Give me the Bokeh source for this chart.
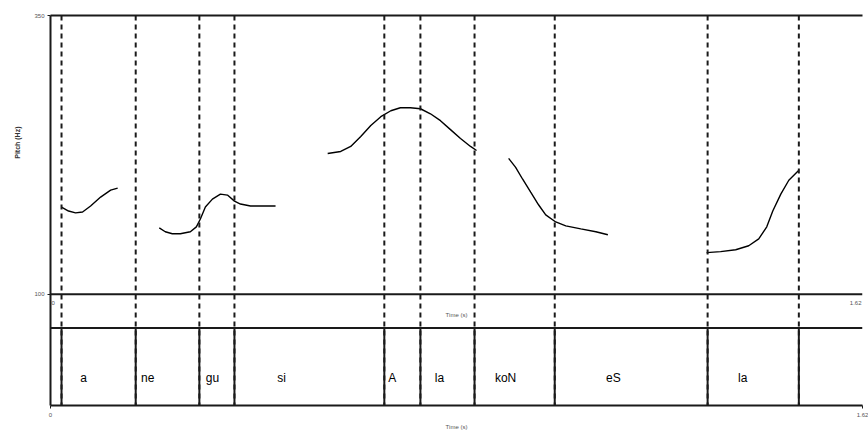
from bokeh.plotting import figure
from bokeh.models import Range1d, LinearAxis, FixedTicker, Span, Title
from bokeh.core.properties import value
from bokeh.embed import file_html
from bokeh.resources import INLINE

# ---- data ----
total_time = 1.62
pitch_min, pitch_max = 100, 350

boundaries = [0.022, 0.170, 0.297, 0.367, 0.666, 0.738, 0.846, 1.006, 1.311, 1.493]
syllables = ["a", "ne", "gu", "si", "A", "la", "koN", "eS", "la"]
syllable_x = [0.066, 0.194, 0.323, 0.461, 0.682, 0.776, 0.908, 1.123, 1.381]

seg1_t = [0.022, 0.036, 0.050, 0.064, 0.080, 0.100, 0.120, 0.134]
seg1_f = [178.3, 174.7, 173.0, 173.8, 179.2, 187.2, 193.4, 195.2]
seg2_t = [0.217, 0.229, 0.243, 0.259, 0.279, 0.291, 0.299, 0.309, 0.323, 0.339, 0.353, 0.367, 0.379, 0.399, 0.423, 0.449]
seg2_f = [159.6, 156.1, 154.3, 154.3, 156.1, 160.5, 167.6, 178.3, 185.4, 189.9, 189.0, 183.6, 181.0, 179.2, 179.2, 179.2]
seg3_t = [0.553, 0.579, 0.599, 0.619, 0.639, 0.659, 0.679, 0.698, 0.718, 0.738, 0.758, 0.778, 0.798, 0.818, 0.838, 0.850]
seg3_f = [226.3, 228.1, 232.6, 241.5, 251.3, 259.3, 264.6, 267.3, 267.3, 266.4, 261.9, 255.7, 247.7, 239.7, 232.6, 229.0]
seg4_t = [0.914, 0.928, 0.942, 0.958, 0.974, 0.988, 1.008, 1.028, 1.058, 1.088, 1.112]
seg4_f = [221.9, 213.9, 203.2, 191.6, 180.1, 171.2, 164.9, 161.4, 158.7, 156.1, 153.4]
seg5_t = [1.309, 1.337, 1.367, 1.393, 1.413, 1.429, 1.441, 1.457, 1.473, 1.493]
seg5_f = [137.4, 138.3, 140.0, 143.6, 149.8, 160.5, 174.7, 189.9, 202.3, 211.2]

# ---- layout ----
FRAME_H = 393
PITCH_H = 281
TIER_H = 78
y_start = pitch_min - (pitch_max - pitch_min) * (FRAME_H - PITCH_H) / PITCH_H

LINE = "#1a1a1a"
TICK_TXT = "#555555"
FONT = "Liberation Sans"

p = figure(width=868, height=432, output_backend="svg", toolbar_location=None,
           x_range=Range1d(0, total_time), y_range=Range1d(y_start, pitch_max),
           x_axis_location=None, y_axis_location=None,
           min_border_left=50, min_border_right=6, min_border_top=15, min_border_bottom=24)
p.extra_y_ranges = {"tier": Range1d(0, FRAME_H / TIER_H)}
p.outline_line_color = None
p.xgrid.visible = False
p.ygrid.visible = False
p.background_fill_color = "white"
p.border_fill_color = "white"

left = LinearAxis(ticker=FixedTicker(ticks=[pitch_min, pitch_max]))
left.axis_line_color = LINE
left.axis_line_width = 2
left.major_tick_line_color = LINE
left.major_tick_out = 3
left.major_tick_in = 0
left.minor_tick_line_color = None
left.major_label_text_font_size = "6px"
left.major_label_text_color = TICK_TXT
left.major_label_standoff = 3
left.major_label_orientation = "horizontal"
p.add_layout(left, "left")

p.add_layout(Title(text="Pitch (Hz)", align="right", offset=111, standoff=22,
                   text_font_size="7px", text_font_style="bold", text_color="#333333"), "left")

bottom = LinearAxis(ticker=FixedTicker(ticks=[0, total_time]), axis_label="Time (s)")
bottom.axis_line_color = LINE
bottom.axis_line_width = 2
bottom.major_tick_line_color = LINE
bottom.major_tick_out = 3
bottom.major_tick_in = 0
bottom.minor_tick_line_color = None
bottom.major_label_text_font_size = "6px"
bottom.major_label_text_color = TICK_TXT
bottom.major_label_standoff = 4
bottom.axis_label_text_font_size = "6px"
bottom.axis_label_text_font_style = "normal"
bottom.axis_label_text_color = TICK_TXT
bottom.axis_label_standoff = 4
p.add_layout(bottom, "below")

top = LinearAxis(ticker=FixedTicker(ticks=[]))
top.axis_line_color = LINE
top.axis_line_width = 2
top.major_tick_line_color = None
top.minor_tick_line_color = None
top.major_label_text_font_size = "0px"
p.add_layout(top, "above")

# horizontal separators
p.add_layout(Span(location=pitch_min, dimension="width", line_color=LINE, line_width=2))
p.add_layout(Span(location=1, dimension="width", y_range_name="tier", line_color=LINE, line_width=2))

# boundaries: dashed through pitch area, solid in tier
for b in boundaries:
    p.add_layout(Span(location=b, dimension="height", line_color=LINE, line_width=2, line_dash="5 4"))
p.segment(x0=boundaries, y0=[0] * len(boundaries), x1=boundaries, y1=[1] * len(boundaries),
          y_range_name="tier", line_color=LINE, line_width=2)

# pitch contour
for ts, fs in [(seg1_t, seg1_f), (seg2_t, seg2_f), (seg3_t, seg3_f), (seg4_t, seg4_f), (seg5_t, seg5_f)]:
    p.line(ts, fs, line_color="black", line_width=1.4)

# tier labels
p.text(x=syllable_x, y=[0.35] * len(syllables), text=syllables, y_range_name="tier",
       text_font=value(FONT), text_font_size="12px", text_color="black",
       text_align="center", text_baseline="middle")

# time ticks under the pitch panel
p.text(x=[0], y=[pitch_min], text=["0"], y_offset=9, x_offset=1,
       text_font=value(FONT), text_font_size="6px", text_color=TICK_TXT,
       text_align="left", text_baseline="middle")
p.text(x=[total_time], y=[pitch_min], text=[str(total_time)], y_offset=9, x_offset=-1,
       text_font=value(FONT), text_font_size="6px", text_color=TICK_TXT,
       text_align="right", text_baseline="middle")
p.text(x=[total_time / 2], y=[pitch_min], text=["Time (s)"],
       y_offset=21, text_font=value(FONT), text_font_size="6px", text_color=TICK_TXT,
       text_align="center", text_baseline="middle")

open("out.html", "w").write(file_html(p, INLINE))
